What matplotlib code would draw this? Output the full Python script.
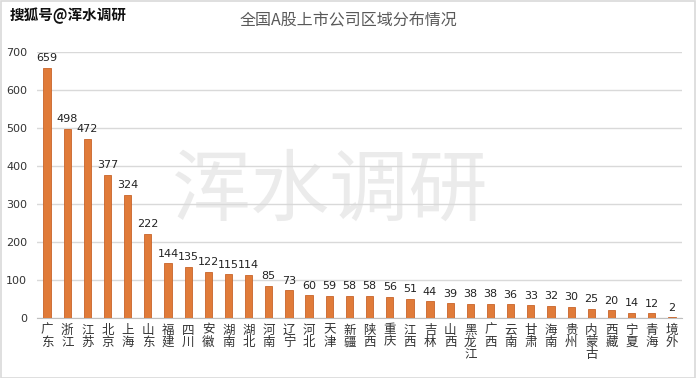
import matplotlib.pyplot as plt
from matplotlib.patches import Rectangle

plt.rcParams['font.family'] = ['Noto Sans CJK SC', 'DejaVu Sans']

regions = ['广东', '浙江', '江苏', '北京', '上海', '山东', '福建', '四川', '安徽', '湖南',
           '湖北', '河南', '辽宁', '河北', '天津', '新疆', '陕西', '重庆', '江西', '吉林',
           '山西', '黑龙江', '广西', '云南', '甘肃', '海南', '贵州', '内蒙古', '西藏', '宁夏',
           '青海', '境外']
counts = [659, 498, 472, 377, 324, 222, 144, 135, 122, 115,
          114, 85, 73, 60, 59, 58, 58, 56, 51, 44,
          39, 38, 38, 36, 33, 32, 30, 25, 20, 14,
          12, 2]
yticks = [0, 100, 200, 300, 400, 500, 600, 700]

W, H = 696, 378
fig = plt.figure(figsize=(W / 100, H / 100), dpi=100)
fig.patch.set_facecolor('white')
fig.patches.append(Rectangle((0.5 / W, 0.5 / H), 1 - 1.5 / W, 1 - 1.5 / H, transform=fig.transFigure,
                             fill=False, edgecolor='#d9d9d9', linewidth=1.2))

ax = fig.add_axes([37 / W, (H - 318) / H, (682 - 37) / W, (318 - 52) / H])
ax.patch.set_alpha(0)
x = list(range(len(regions)))
ax.bar(x, counts, width=0.36, color='#e07b39', edgecolor='#c8642a', linewidth=0.6, zorder=3)

for xi, v in zip(x, counts):
    ax.text(xi, v + 12, str(v), ha='center', va='bottom', fontsize=8, color='#222222',
            family=['DejaVu Sans'])

# watermark behind the grid
ax.text(330 / W, 1 - 192 / H, '浑水调研', transform=fig.transFigure, ha='center', va='center',
        fontsize=57, color='#ebebeb', zorder=1)

ax.set_xlim(-0.5, len(regions) - 0.5)
ax.set_ylim(0, 700)
ax.set_yticks(yticks)
ax.set_yticklabels([str(t) for t in yticks], fontsize=8, color='#333333', family=['DejaVu Sans'])
ax.set_xticks(x)
ax.set_xticklabels(['\n'.join(r) for r in regions], fontsize=9, color='#333333',
                   linespacing=0.9, va='top')
ax.tick_params(axis='x', length=0, pad=4)
ax.tick_params(axis='y', length=0, pad=7)
ax.grid(axis='y', color='#d9d9d9', linewidth=1, zorder=2)
ax.set_axisbelow(False)
for s in ['top', 'right', 'left']:
    ax.spines[s].set_visible(False)
ax.spines['bottom'].set_color('#bfbfbf')

fig.text(0.5, 0.944, '全国A股上市公司区域分布情况', ha='center', va='center', fontsize=11.5,
         color='#595959')
fig.text(10 / W, 1 - 16 / H, '搜狐号@浑水调研', ha='left', va='center', fontsize=10.5,
         color='#111111', fontweight='bold')

fig.savefig('out.png', dpi=100)
